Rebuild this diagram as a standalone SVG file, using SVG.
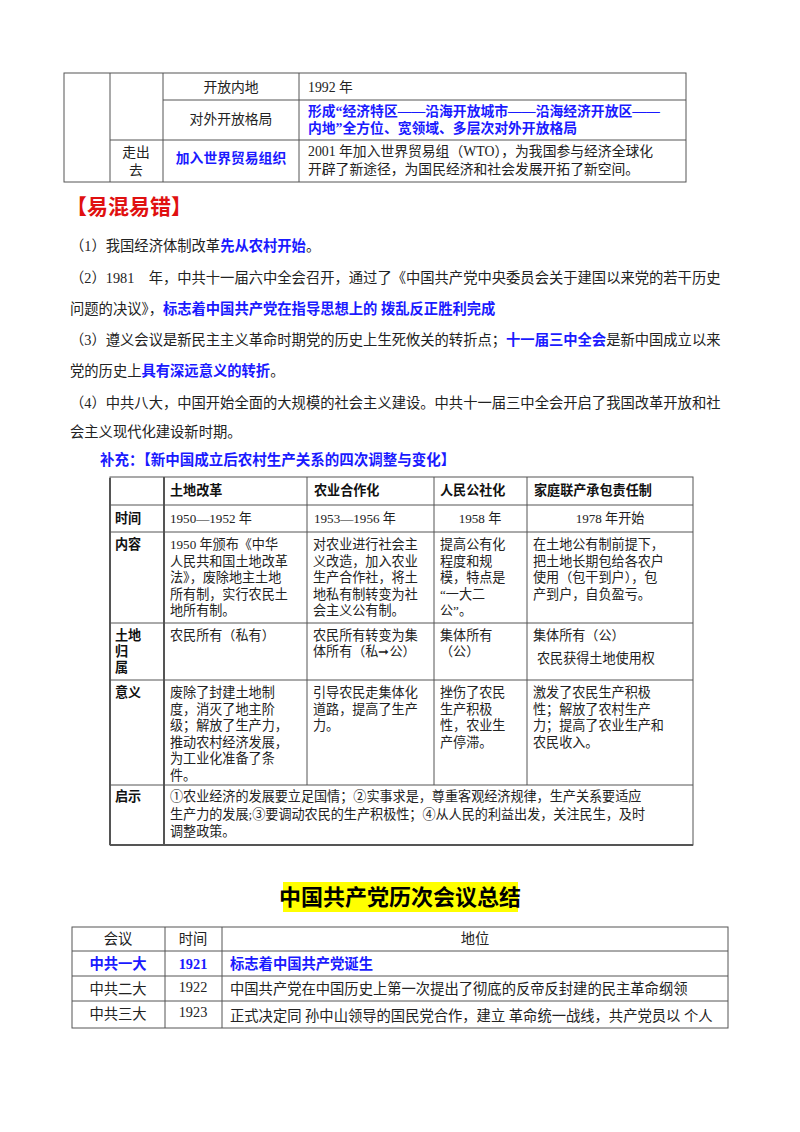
<svg xmlns="http://www.w3.org/2000/svg" width="800" height="1132" viewBox="0 0 800 1132">
<style>
text{font-family:"Liberation Serif","Noto Sans CJK SC",serif;font-size:14.3px;fill:#222}
.s{font-size:13.1px}
.t1{font-size:13.8px}
.b{fill:#1a1aff;font-weight:bold}
.k{font-weight:bold;fill:#111}
.c{text-anchor:middle}
.ln{stroke:#555;stroke-width:1;fill:none}
</style>
<rect width="800" height="1132" fill="#fff"/>
<g id="table1" class="ln">
<rect x="64" y="73" width="622" height="109"/>
<line x1="110" y1="73" x2="110" y2="182"/><line x1="163" y1="73" x2="163" y2="182"/><line x1="299" y1="73" x2="299" y2="182"/>
<line x1="163" y1="100" x2="686" y2="100"/><line x1="110" y1="140" x2="686" y2="140"/>
</g>
<g id="table1-text" class="t1">
<text x="231" y="92" class="c t1">开放内地</text><text x="308" y="92" class="t1">1992 年</text>
<text x="231" y="124" class="c t1">对外开放格局</text>
<text x="308" y="116" class="b t1">形成“经济特区——沿海开放城市——沿海经济开放区——</text>
<text x="308" y="133" class="b t1">内地”全方位、宽领域、多层次对外开放格局</text>
<text x="136" y="157" class="c t1">走出</text><text x="136" y="175" class="c t1">去</text>
<text x="231" y="163" class="c b t1">加入世界贸易组织</text>
<text x="308" y="156" class="t1">2001 年加入世界贸易组（WTO），为我国参与经济全球化</text>
<text x="308" y="174" class="t1">开辟了新途径，为国民经济和社会发展开拓了新空间。</text>
</g>
<g id="errors">
<text x="66" y="214" style="font-size:21px;font-weight:bold;fill:#e01010">【易混易错】</text>
<text x="70" y="251">（1）我国经济体制改革<tspan class="b">先从农村开始</tspan>。</text>
<text x="70" y="283">（2）1981　年，中共十一届六中全会召开，通过了《中国共产党中央委员会关于建国以来党的若干历史</text>
<text x="70" y="314">问题的决议》，<tspan class="b">标志着中国共产党在指导思想上的 拨乱反正胜利完成</tspan></text>
<text x="70" y="345">（3）遵义会议是新民主主义革命时期党的历史上生死攸关的转折点；<tspan class="b">十一届三中全会</tspan>是新中国成立以来</text>
<text x="70" y="376">党的历史上<tspan class="b">具有深远意义的转折</tspan>。</text>
<text x="70" y="408">（4）中共八大，中国开始全面的大规模的社会主义建设。中共十一届三中全会开启了我国改革开放和社</text>
<text x="70" y="437">会主义现代化建设新时期。</text>
</g>
<text x="100" y="465" class="b" style="font-size:14.5px">补充：【新中国成立后农村生产关系的四次调整与变化】</text>
<g id="table2" class="ln">
<rect x="110" y="477" width="583" height="368"/>
<line x1="110" y1="478" x2="110" y2="845" style="stroke-width:2"/>
<line x1="164" y1="477" x2="164" y2="845" style="stroke-width:2"/>
<line x1="307" y1="477" x2="307" y2="785"/><line x1="434" y1="477" x2="434" y2="785"/><line x1="527" y1="477" x2="527" y2="785"/>
<line x1="110" y1="505" x2="693" y2="505"/><line x1="110" y1="532" x2="693" y2="532"/><line x1="110" y1="623" x2="693" y2="623"/><line x1="110" y1="680" x2="693" y2="680"/><line x1="110" y1="785" x2="693" y2="785"/>
<line x1="110" y1="845" x2="693" y2="845" style="stroke-width:2"/>
</g>
<g id="table2-text" class="s">
<text x="170" y="495" class="k s">土地改革</text><text x="314" y="495" class="k s">农业合作化</text><text x="440" y="495" class="k s">人民公社化</text><text x="534" y="495" class="k s">家庭联产承包责任制</text>
<text x="115" y="523" class="k s">时间</text><text x="170" y="523" class="s">1950—1952 年</text><text x="314" y="523" class="s">1953—1956 年</text><text x="480" y="523" class="s c">1958 年</text><text x="610" y="523" class="s c">1978 年开始</text>
<text x="115" y="549" class="k s">内容</text>
<text class="s" x="170" y="549">1950 年颁布《中华</text><text class="s" x="170" y="566">人民共和国土地改革</text><text class="s" x="170" y="582">法》，废除地主土地</text><text class="s" x="170" y="599">所有制，实行农民土</text><text class="s" x="170" y="615">地所有制。</text>
<text class="s" x="313" y="549">对农业进行社会主</text><text class="s" x="313" y="566">义改造，加入农业</text><text class="s" x="313" y="582">生产合作社，将土</text><text class="s" x="313" y="599">地私有制转变为社</text><text class="s" x="313" y="615">会主义公有制。</text>
<text class="s" x="440" y="549">提高公有化</text><text class="s" x="440" y="566">程度和规</text><text class="s" x="440" y="582">模，特点是</text><text class="s" x="440" y="599">“一大二</text><text class="s" x="440" y="615">公”。</text>
<text class="s" x="533" y="549">在土地公有制前提下，</text><text class="s" x="533" y="566">把土地长期包给各农户</text><text class="s" x="533" y="582">使用（包干到户），包</text><text class="s" x="533" y="599">产到户，自负盈亏。</text>
<text x="115" y="640" class="k s">土地</text><text x="115" y="656" class="k s">归</text><text x="115" y="672" class="k s">属</text>
<text class="s" x="170" y="640">农民所有（私有）</text>
<text class="s" x="313" y="640">农民所有转变为集</text><text class="s" x="313" y="656">体所有（私➞公）</text>
<text class="s" x="440" y="640">集体所有</text><text class="s" x="440" y="656">（公）</text>
<text class="s" x="533" y="640">集体所有（公）</text><text class="s" x="537" y="663">农民获得土地使用权</text>
<text x="115" y="697" class="k s">意义</text>
<text class="s" x="170" y="697">废除了封建土地制</text><text class="s" x="170" y="714">度，消灭了地主阶</text><text class="s" x="170" y="730">级；解放了生产力，</text><text class="s" x="170" y="747">推动农村经济发展，</text><text class="s" x="170" y="763">为工业化准备了条</text><text class="s" x="170" y="780">件。</text>
<text class="s" x="313" y="697">引导农民走集体化</text><text class="s" x="313" y="714">道路，提高了生产</text><text class="s" x="313" y="730">力。</text>
<text class="s" x="440" y="697">挫伤了农民</text><text class="s" x="440" y="714">生产积极</text><text class="s" x="440" y="730">性，农业生</text><text class="s" x="440" y="747">产停滞。</text>
<text class="s" x="533" y="697">激发了农民生产积极</text><text class="s" x="533" y="714">性；解放了农村生产</text><text class="s" x="533" y="730">力；提高了农业生产和</text><text class="s" x="533" y="747">农民收入。</text>
<text x="115" y="801" class="k s">启示</text>
<text class="s" x="170" y="801">①农业经济的发展要立足国情；②实事求是，尊重客观经济规律，生产关系要适应</text>
<text class="s" x="170" y="819">生产力的发展;③要调动农民的生产积极性；④从人民的利益出发，关注民生，及时</text>
<text class="s" x="170" y="836">调整政策。</text>
</g>
<g id="title2">
<rect x="283" y="882" width="235" height="30" fill="#ffff00"/>
<text x="400" y="905" class="c" style="font-size:22px;font-weight:bold;fill:#000;font-family:'Noto Sans CJK SC',sans-serif">中国共产党历次会议总结</text>
</g>
<g id="table3" class="ln">
<rect x="72" y="927" width="656" height="101"/>
<line x1="165" y1="927" x2="165" y2="1028"/><line x1="222" y1="927" x2="222" y2="1028"/>
<line x1="72" y1="951" x2="728" y2="951"/><line x1="72" y1="976" x2="728" y2="976"/><line x1="72" y1="1001" x2="728" y2="1001"/>
</g>
<g id="table3-text">
<text x="118" y="944" class="c">会议</text><text x="193" y="944" class="c">时间</text><text x="475" y="944" class="c">地位</text>
<text x="118" y="969" class="c b">中共一大</text><text x="193" y="969" class="c b">1921</text><text x="230" y="969" class="b">标志着中国共产党诞生</text>
<text x="118" y="994" class="c">中共二大</text><text x="193" y="992" class="c">1922</text><text x="230" y="994">中国共产党在中国历史上第一次提出了彻底的反帝反封建的民主革命纲领</text>
<text x="118" y="1019" class="c">中共三大</text><text x="193" y="1017" class="c">1923</text><text x="230" y="1021">正式决定同 孙中山领导的国民党合作，建立 革命统一战线，共产党员以 个人</text>
</g>
</svg>
